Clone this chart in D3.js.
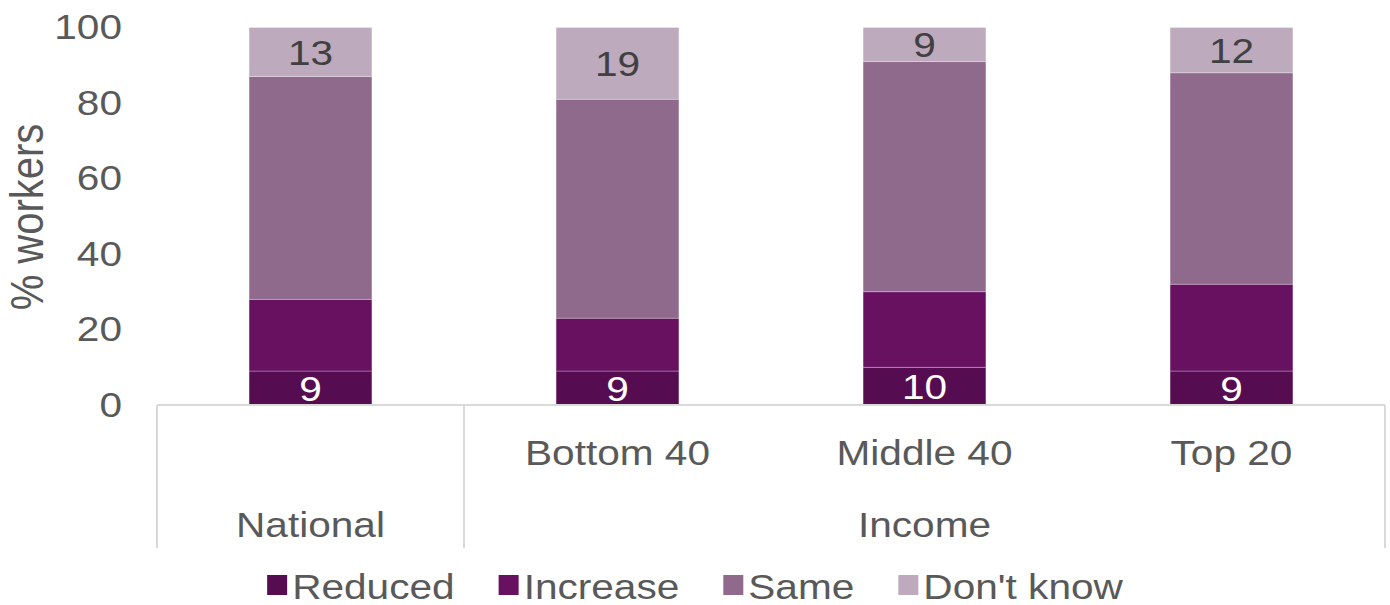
<!DOCTYPE html>
<html>
<head>
<meta charset="utf-8">
<script src="https://cdn.jsdelivr.net/npm/d3@7"></script>
<style>
  html, body { margin: 0; padding: 0; background: #fff; }
  svg { display: block; font-family: "Liberation Sans", Arial, sans-serif; }
</style>
</head>
<body>
<svg id="chart" width="1390" height="605"></svg>
<script>
// Income groups and the group each bar belongs to
const categories = ["National", "Bottom 40", "Middle 40", "Top 20"];
const subLabels  = ["", "Bottom 40", "Middle 40", "Top 20"];
const groupNames = ["National", "Income"];
const groupOf    = ["National", "Income", "Income", "Income"];

// Share of workers (%) per answer
const seriesNames = ["Reduced", "Increase", "Same", "Don't know"];
const reduced   = [9, 9, 10, 9];
const increase  = [19, 14, 20, 23];
const same      = [59, 58, 61, 56];
const dontKnow  = [13, 19, 9, 12];

const yTicks = [0, 20, 40, 60, 80, 100];
const yTitle = "% workers";

const colors = ["#560c50", "#671160", "#8f6a8c", "#bdaabd"];
const labelled = { "Reduced": "#ffffff", "Don't know": "#404040" };

const textGray = "#595959";
const lineGray = "#d9d9d9";
const sx = 1.16;           // horizontal stretch of the lettering
const fontSize = 35;

const svg = d3.select("#chart");

const plot = { left: 157, right: 1385, top: 27.5, bottom: 405 };
const catBottom = 548;

const table = categories.map((c, i) => ({
  category: c,
  "Reduced": reduced[i],
  "Increase": increase[i],
  "Same": same[i],
  "Don't know": dontKnow[i]
}));
const stack = d3.stack().keys(seriesNames)(table);

const x = d3.scaleBand()
  .domain(categories)
  .range([plot.left, plot.right])
  .paddingInner(0.6)
  .paddingOuter(0.3);

const y = d3.scaleLinear().domain([0, 100]).range([plot.bottom, plot.top]);

// y axis labels
const yAxis = svg.append("g")
  .attr("transform", `translate(122,0)`)
  .call(d3.axisLeft(y).tickValues(yTicks).tickSize(0).tickPadding(0));
yAxis.select(".domain").remove();
yAxis.selectAll("text")
  .attr("x", 0)
  .attr("transform", `scale(${sx},1)`)
  .attr("fill", textGray)
  .style("font-size", fontSize + "px")
  .style("font-family", "'Liberation Sans', Arial, sans-serif");

// y axis title
svg.append("text")
  .attr("transform", `translate(27,217) scale(${sx},1) rotate(-90)`)
  .attr("text-anchor", "middle")
  .attr("dy", "0.35em")
  .attr("fill", textGray)
  .style("font-size", "40px")
  .text(yTitle);

// stacked bars
const layers = svg.append("g").selectAll("g")
  .data(stack)
  .join("g")
  .attr("fill", (d, i) => colors[i]);

layers.selectAll("rect")
  .data(d => d)
  .join("rect")
  .attr("x", d => x(d.data.category))
  .attr("width", x.bandwidth())
  .attr("y", d => y(d[1]))
  .attr("height", d => y(d[0]) - y(d[1]))
  .attr("stroke", "rgba(255,255,255,0.35)")
  .attr("stroke-width", 0.8);

// value labels on the first and last segment
stack.forEach(layer => {
  const col = labelled[layer.key];
  if (!col) return;
  layer.forEach(d => {
    const cx = x(d.data.category) + x.bandwidth() / 2;
    const cy = (y(d[0]) + y(d[1])) / 2;
    svg.append("text")
      .attr("transform", `translate(${cx},${cy}) scale(${sx},1)`)
      .attr("text-anchor", "middle")
      .attr("dy", "0.36em")
      .attr("fill", col)
      .style("font-size", fontSize + "px")
      .text(d.data[layer.key]);
  });
});

// category frame: baseline and group dividers
const frame = svg.append("g").attr("stroke", lineGray).attr("stroke-width", 2).attr("fill", "none");
frame.append("line")
  .attr("x1", plot.left).attr("x2", plot.right)
  .attr("y1", plot.bottom).attr("y2", plot.bottom);

const groupSpans = groupNames.map(g => {
  const members = categories.filter((c, i) => groupOf[i] === g);
  const x0 = x(members[0]) - x.step() * x.paddingInner() / 2;
  const x1 = x(members[members.length - 1]) + x.bandwidth() + x.step() * x.paddingInner() / 2;
  return { name: g, x0, x1 };
});
const edges = [plot.left, ...groupSpans.slice(0, -1).map(s => s.x1), plot.right];
edges.forEach(ex => {
  frame.append("line")
    .attr("x1", ex).attr("x2", ex)
    .attr("y1", plot.bottom).attr("y2", catBottom);
});

// inner category labels
categories.forEach((c, i) => {
  if (!subLabels[i]) return;
  svg.append("text")
    .attr("transform", `translate(${x(c) + x.bandwidth() / 2},465) scale(${sx},1)`)
    .attr("text-anchor", "middle")
    .attr("fill", textGray)
    .style("font-size", fontSize + "px")
    .text(subLabels[i]);
});

// group labels, centred in their span of the frame
groupSpans.forEach((s, gi) => {
  const left = gi === 0 ? plot.left : s.x0;
  const right = gi === groupSpans.length - 1 ? plot.right : s.x1;
  svg.append("text")
    .attr("transform", `translate(${(left + right) / 2},537) scale(${sx},1)`)
    .attr("text-anchor", "middle")
    .attr("fill", textGray)
    .style("font-size", fontSize + "px")
    .text(s.name);
});

// legend
const legend = svg.append("g");
const box = 20, boxGap = 5, itemGap = 44;
let cursor = 0;
seriesNames.forEach((name, i) => {
  const g = legend.append("g");
  g.append("rect")
    .attr("x", 0).attr("y", -box / 2 - 1)
    .attr("width", box).attr("height", box)
    .attr("fill", colors[i]);
  const t = g.append("text")
    .attr("transform", `translate(${box + boxGap},0) scale(${sx},1)`)
    .attr("dy", "0.36em")
    .attr("fill", textGray)
    .style("font-size", fontSize + "px")
    .text(name);
  const w = box + boxGap + t.node().getComputedTextLength() * sx;
  g.attr("transform", `translate(${cursor},0)`);
  cursor += w + itemGap;
});
const legendWidth = cursor - itemGap;
legend.attr("transform", `translate(${(1390 - legendWidth) / 2},586)`);
</script>
</body>
</html>
